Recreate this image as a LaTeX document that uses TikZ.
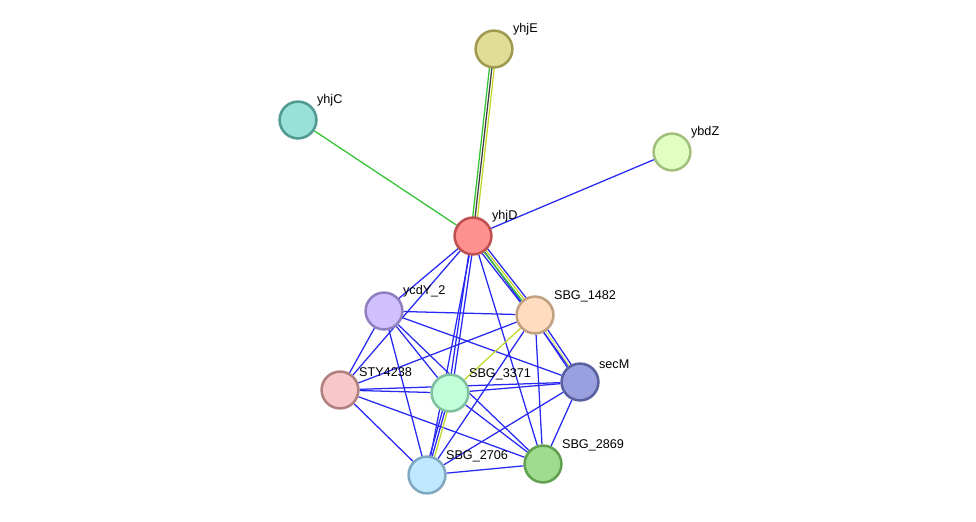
\documentclass[tikz,border=0pt]{standalone}
\usepackage{fontspec}
\setmainfont{Liberation Sans}
\usetikzlibrary{calc, positioning}
\usetikzlibrary{backgrounds}

\definecolor{edgeblue}{RGB}{40,40,245}
\definecolor{edgegreen}{RGB}{50,195,50}
\definecolor{edgeyellow}{RGB}{195,215,40}
\definecolor{edgedark}{RGB}{60,60,60}

\definecolor{yhjEfill}{RGB}{224,221,153}    \definecolor{yhjEline}{RGB}{160,154,80}
\definecolor{yhjCfill}{RGB}{153,224,216}    \definecolor{yhjCline}{RGB}{80,154,144}
\definecolor{ybdZfill}{RGB}{224,255,192}    \definecolor{ybdZline}{RGB}{160,192,128}
\definecolor{yhjDfill}{RGB}{255,144,144}    \definecolor{yhjDline}{RGB}{192,80,80}
\definecolor{ycdYfill}{RGB}{208,192,255}    \definecolor{ycdYline}{RGB}{144,128,192}
\definecolor{sbgAfill}{RGB}{255,220,192}    \definecolor{sbgAline}{RGB}{192,160,128}
\definecolor{secMfill}{RGB}{152,160,224}    \definecolor{secMline}{RGB}{88,96,160}
\definecolor{styfill}{RGB}{248,200,200}     \definecolor{styline}{RGB}{176,128,128}
\definecolor{sbgBfill}{RGB}{192,255,216}    \definecolor{sbgBline}{RGB}{128,192,160}
\definecolor{sbgCfill}{RGB}{160,220,144}    \definecolor{sbgCline}{RGB}{96,160,80}
\definecolor{sbgDfill}{RGB}{192,232,255}    \definecolor{sbgDline}{RGB}{128,168,192}

\tikzset{
  prot/.style={circle, draw=#1line, fill=#1fill, line width=1.8pt, minimum size=0.92cm, inner sep=0pt},
  lbl/.style={font=\fontsize{9}{10}\selectfont, inner sep=0pt, xshift=3.5pt, yshift=-0.5pt},
  edge/.style={line width=0.9pt, edgeblue},
}

% one strand of a bundle, shifted sideways by #3
\newcommand{\strand}[4]{%
  \draw[line width=0.9pt, #4] ($(#1)!#3!90:(#2)$) -- ($(#2)!#3!-90:(#1)$);}

\begin{document}
\begin{tikzpicture}[x=0.025cm, y=-0.025cm]
\useasboundingbox (0,0) rectangle (976,521);

\node[prot=yhjE, label={[lbl]above right:yhjE}] (yhjE) at (494,49) {};
\node[prot=yhjC, label={[lbl]above right:yhjC}] (yhjC) at (298,120) {};
\node[prot=ybdZ, label={[lbl]above right:ybdZ}] (ybdZ) at (672,152) {};
\node[prot=yhjD, label={[lbl]above right:yhjD}] (yhjD) at (473,236) {};
\node[prot=ycdY, label={[lbl]above right:ycdY\_2}] (ycdY) at (384,311) {};
\node[prot=sbgA, label={[lbl]above right:SBG\_1482}] (sbg1482) at (535,315) {};
\node[prot=secM, label={[lbl]above right:secM}] (secM) at (580,382) {};
\node[prot=sty, label={[lbl]above right:STY4238}] (sty) at (340,390) {};
\node[prot=sbgB, label={[lbl]above right:SBG\_3371}] (sbg3371) at (450,393) {};
\node[prot=sbgC, label={[lbl]above right:SBG\_2869}] (sbg2869) at (543,464) {};
\node[prot=sbgD, label={[lbl]above right:SBG\_2706}] (sbg2706) at (427,475) {};

\begin{pgfonlayer}{background}
\foreach \a/\b in {yhjD/ybdZ, yhjD/ycdY, yhjD/sty, yhjD/sbg2706, yhjD/sbg2869, yhjD/secM,
    ycdY/sbg1482, ycdY/secM, ycdY/sty, ycdY/sbg3371, ycdY/sbg2869, ycdY/sbg2706,
    sbg1482/sty, sbg1482/sbg2869, sbg1482/sbg2706,
    sty/sbg3371, sty/secM, sty/sbg2869, sty/sbg2706,
    sbg3371/secM, sbg3371/sbg2869,
    secM/sbg2869, secM/sbg2706, sbg2869/sbg2706}
  \draw[edge] (\a) -- (\b);

\draw[line width=0.9pt, edgegreen] (yhjD) -- (yhjC);
\strand{yhjD}{yhjE}{0.06cm}{edgegreen}
\strand{yhjD}{yhjE}{0cm}{edgedark}
\strand{yhjD}{yhjE}{-0.06cm}{edgeyellow}

\strand{yhjD}{sbg1482}{-0.09cm}{edgeblue}
\strand{yhjD}{sbg1482}{-0.03cm}{edgegreen}
\strand{yhjD}{sbg1482}{0.03cm}{edgeyellow}
\strand{yhjD}{sbg1482}{0.09cm}{edgeblue}

\strand{yhjD}{sbg3371}{-0.04cm}{edgeblue}
\strand{yhjD}{sbg3371}{0.04cm}{edgeblue}

\strand{sbg1482}{secM}{-0.06cm}{edgeblue}
\strand{sbg1482}{secM}{0cm}{edgeyellow!60}
\strand{sbg1482}{secM}{0.06cm}{edgeblue}

\draw[line width=0.9pt, edgeyellow] (sbg1482) -- (sbg3371);

\strand{sbg3371}{sbg2706}{-0.06cm}{edgeblue}
\strand{sbg3371}{sbg2706}{0cm}{edgeblue}
\strand{sbg3371}{sbg2706}{0.06cm}{edgeyellow}
\end{pgfonlayer}
\end{tikzpicture}
\end{document}
